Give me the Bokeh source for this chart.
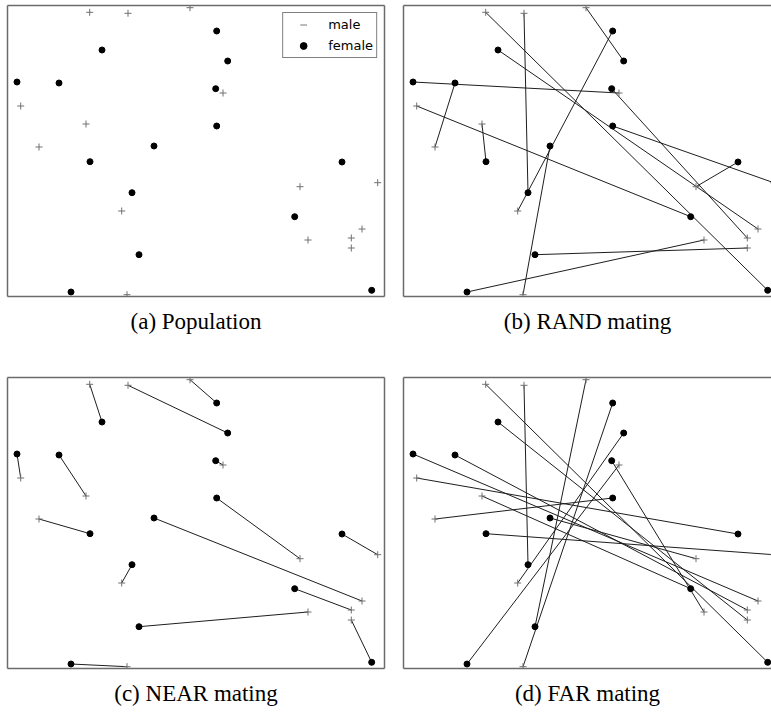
from bokeh.plotting import figure
from bokeh.layouts import column, row
from bokeh.models import (ColumnDataSource, Range1d, LinearAxis, FixedTicker,
                          Legend, LegendItem, Title)
from bokeh.embed import file_html
from bokeh.resources import INLINE

# ---- data: positions of individuals in the field ----
female_x = [94.5, 9.5, 51.5, 146.5, 209.2, 220.2, 208.2, 209.2, 82.5, 124.5, 131.5, 63.5, 334.5, 287.2, 364.2]
female_y = [246.5, 214.5, 213.5, 150.5, 265.5, 235.5, 207.8, 170.5, 134.8, 103.8, 41.8, 4.5, 134.5, 79.8, 6.2]
male_x = [82.2, 120.5, 182.5, 13.2, 78.5, 31.5, 370.2, 354.5, 114.2, 300.5, 119.5, 215.5, 292.5, 343.8, 343.8]
male_y = [284.2, 283.2, 288.8, 190.5, 172.5, 149.5, 113.8, 67.5, 85.5, 56.5, 1.8, 203.5, 109.8, 58.5, 48.5]

# index of the male chosen by each female
rand_mate = [7, 11, 5, 10, 8, 2, 13, 6, 4, 1, 14, 9, 12, 3, 0]
near_mate = [0, 3, 4, 7, 2, 1, 11, 12, 5, 8, 9, 10, 6, 13, 14]
far_mate = [14, 7, 13, 12, 10, 8, 9, 5, 6, 1, 2, 11, 3, 4, 0]

captions = ["(a) Population", "(b) RAND mating", "(c) NEAR mating", "(d) FAR mating"]

FIELD_H = 291
FRAME_COLOR = "#6b6b6b"


def frame_axis():
    return LinearAxis(ticker=FixedTicker(ticks=[]), axis_line_color=FRAME_COLOR,
                      axis_line_width=1.5, major_tick_line_color=None,
                      minor_tick_line_color=None, major_tick_out=0, major_tick_in=0,
                      minor_tick_out=0, minor_tick_in=0, major_label_standoff=0,
                      major_label_text_font_size="0px")


def make_panel(caption, width, height, frame_w, mbl, mbr, mbt, mbb, mates, closed, legend=False):
    p = figure(width=width, height=height, x_range=Range1d(0, frame_w),
               y_range=Range1d(0, FIELD_H), toolbar_location=None,
               output_backend="svg", x_axis_type=None, y_axis_type=None,
               min_border_left=mbl, min_border_right=mbr,
               min_border_top=mbt, min_border_bottom=mbb)
    p.outline_line_color = None
    p.background_fill_color = "white"
    p.border_fill_color = "white"
    sides = ["left", "above", "below"] + (["right"] if closed else [])
    for s in sides:
        p.add_layout(frame_axis(), s)

    if mates is not None:
        src = ColumnDataSource(dict(
            x0=female_x, y0=female_y,
            x1=[male_x[m] for m in mates], y1=[male_y[m] for m in mates]))
        p.segment("x0", "y0", "x1", "y1", source=src, line_color="#1e1e1e", line_width=1)

    p.scatter(male_x, male_y, marker="cross", size=7, line_color="#707070", line_width=1)
    p.scatter(female_x, female_y, marker="circle", size=6, fill_color="black", line_color="black")

    if legend:
        # legend-only renderers: one point placed outside the visible field
        m_leg = p.scatter(x=[-1000], y=[-1000], marker="dash", size=7,
                          line_color="#777777", line_width=1)
        f_leg = p.scatter(x=[-1000], y=[-1000], marker="circle", size=5,
                          fill_color="black", line_color="black")
        lg = Legend(items=[LegendItem(label="male", renderers=[m_leg]),
                           LegendItem(label="female", renderers=[f_leg])],
                    location="top_right", margin=7, padding=3, spacing=4,
                    glyph_width=34, glyph_height=17, label_standoff=8,
                    label_text_font="DejaVu Sans", label_text_font_size="13px",
                    label_text_color="black",
                    border_line_color="black", border_line_width=1.2,
                    background_fill_color="white", background_fill_alpha=1)
        p.add_layout(lg)

    p.add_layout(Title(text=caption, align="center", text_font="Liberation Serif",
                       text_font_size="23px", text_font_style="normal",
                       text_color="black", standoff=21), "below")
    return p


pa = make_panel(captions[0], 394, 372, 377, 7, 10, 5, 76, None, True, legend=True)
pb = make_panel(captions[1], 377, 372, 368, 9, 0, 5, 76, rand_mate, False)
pc = make_panel(captions[2], 394, 347, 377, 7, 10, 5, 51, near_mate, True)
pd = make_panel(captions[3], 377, 347, 368, 9, 0, 5, 51, far_mate, False)

layout = column(row(pa, pb), row(pc, pd))
open("out.html", "w").write(file_html(layout, INLINE))
